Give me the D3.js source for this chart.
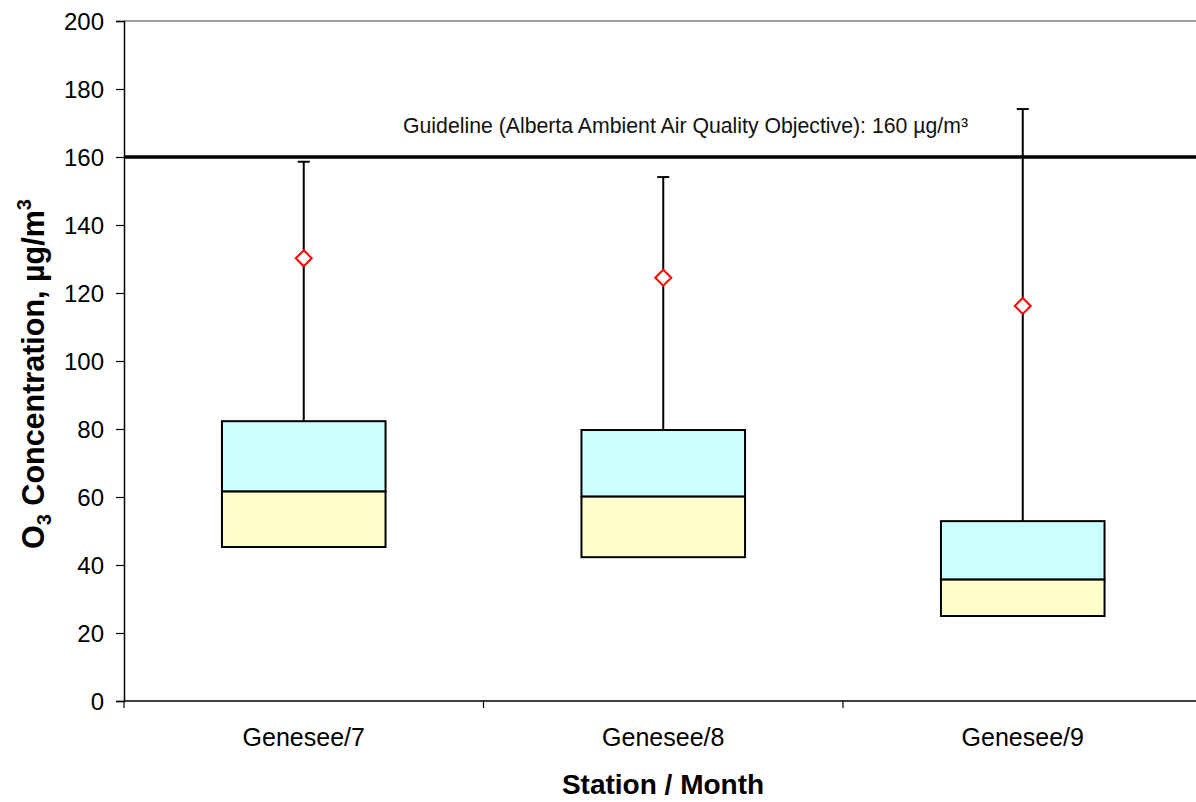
<!DOCTYPE html>
<html><head><meta charset="utf-8">
<script src="https://cdn.jsdelivr.net/npm/d3@7"></script>
<style>body{margin:0;background:#fff}svg{display:block}</style>
</head><body>
<svg id="c" width="1196" height="802"></svg>
<script>
const categories = ["Genesee/7","Genesee/8","Genesee/9"];
const p25 = [45.3, 42.3, 25.0];
const median = [61.6, 60.1, 35.7];
const p75 = [82.3, 79.7, 52.9];
const maxVal = [158.6, 154.1, 174.1];
const meanVal = [130.2, 124.5, 116.2];
const yTicks = [0,20,40,60,80,100,120,140,160,180,200];
const guideline = 160;
const guidelineLabel = "Guideline (Alberta Ambient Air Quality Objective): 160 µg/m³";

const svg = d3.select("#c");
const L = 124, T = 21, B = 701, R = 1202.5;
const x = d3.scaleBand().domain(categories).range([L, R]).paddingInner(0).paddingOuter(0);
const y = d3.scaleLinear().domain([0,200]).range([B, T]);
const font = "Arial, 'Liberation Sans', sans-serif";

// top border
svg.append("line").attr("x1",L).attr("x2",1196).attr("y1",y(200)).attr("y2",y(200)).attr("stroke","#808080").attr("stroke-width",1.5);

// y axis
const ya = svg.append("g").attr("transform",`translate(${L},0)`)
  .call(d3.axisLeft(y).tickValues(yTicks).tickSize(8).tickPadding(12));
ya.select(".domain").attr("stroke","#000").attr("stroke-width",1.5);
ya.selectAll(".tick line").attr("stroke","#000").attr("stroke-width",1.2);
ya.selectAll(".tick text").attr("font-family",font).attr("font-size",24).attr("fill","#000").attr("dy","0.35em");

// x axis
const xa = svg.append("g").attr("transform",`translate(0,${B})`)
  .call(d3.axisBottom(x).tickSize(0).tickPadding(27));
xa.select(".domain").remove();
xa.selectAll(".tick text").attr("font-family",font).attr("font-size",25).attr("fill","#000");
svg.append("line").attr("x1",L).attr("x2",1196).attr("y1",B).attr("y2",B).attr("stroke","#000").attr("stroke-width",1.5);
categories.forEach(c => {
  const xx = x(c);
  svg.append("line").attr("x1",xx).attr("x2",xx).attr("y1",B).attr("y2",B+7).attr("stroke","#000").attr("stroke-width",1.2);
});

const bw = x.bandwidth()*0.455;
const g = svg.append("g");
categories.forEach((c,i) => {
  const cx = x(c) + x.bandwidth()/2;
  g.append("line").attr("x1",cx).attr("x2",cx).attr("y1",y(maxVal[i])).attr("y2",y(p75[i])).attr("stroke","#000").attr("stroke-width",2);
  g.append("line").attr("x1",cx-6).attr("x2",cx+6).attr("y1",y(maxVal[i])).attr("y2",y(maxVal[i])).attr("stroke","#000").attr("stroke-width",2);
  g.append("rect").attr("x",cx-bw/2).attr("width",bw).attr("y",y(p75[i])).attr("height",y(median[i])-y(p75[i]))
    .attr("fill","#CCFFFF").attr("stroke","#000").attr("stroke-width",2);
  g.append("rect").attr("x",cx-bw/2).attr("width",bw).attr("y",y(median[i])).attr("height",y(p25[i])-y(median[i]))
    .attr("fill","#FFFFCC").attr("stroke","#000").attr("stroke-width",2);
});

// guideline
svg.append("line").attr("x1",L).attr("x2",1196).attr("y1",y(guideline)).attr("y2",y(guideline)).attr("stroke","#000").attr("stroke-width",3.5);
svg.append("text").attr("x",403).attr("y",y(guideline)-24).attr("text-anchor","start")
  .attr("font-family","'Liberation Sans Narrow', 'Arial Narrow', Arial, sans-serif").attr("font-stretch","condensed")
  .attr("font-size",22).attr("fill","#111")
  .attr("textLength",565).attr("lengthAdjust","spacingAndGlyphs").text(guidelineLabel);

// means
categories.forEach((c,i) => {
  const cx = x(c) + x.bandwidth()/2, cy = y(meanVal[i]), s = 8;
  svg.append("path").attr("d",`M${cx},${cy-s}L${cx+s},${cy}L${cx},${cy+s}L${cx-s},${cy}Z`)
    .attr("fill","#fff").attr("stroke","#FF0000").attr("stroke-width",2);
});

// axis titles
svg.append("text").attr("x",663).attr("y",794).attr("text-anchor","middle").attr("font-family",font)
  .attr("font-weight","bold").attr("font-size",28).text("Station / Month");
const yt = svg.append("text").attr("transform","translate(44,374) rotate(-90)").attr("text-anchor","middle")
  .attr("font-family",font).attr("font-weight","bold").attr("font-size",30.5);
yt.append("tspan").text("O");
yt.append("tspan").attr("font-size",20).attr("dy",7).text("3");
yt.append("tspan").attr("dy",-7).text(" Concentration, µg/m");
yt.append("tspan").attr("font-size",20).attr("dy",-13).text("3");
</script>
</body></html>
